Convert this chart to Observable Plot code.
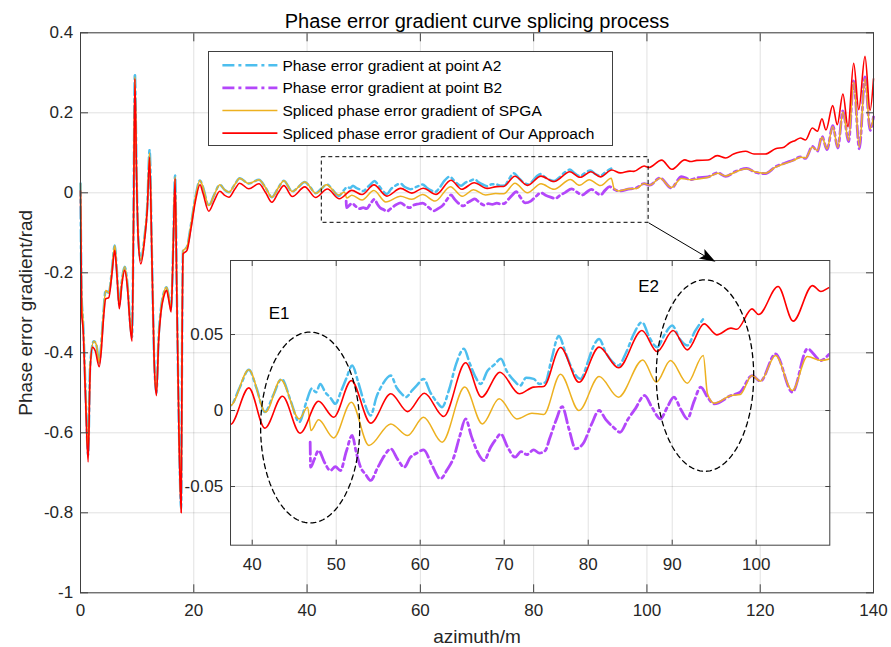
<!DOCTYPE html>
<html><head><meta charset="utf-8">
<script src="https://cdn.jsdelivr.net/npm/d3@7"></script>
<script src="https://cdn.jsdelivr.net/npm/@observablehq/plot@0.6"></script>
<style>
body{margin:0;background:#fff;}
#wrap{position:relative;width:891px;height:647px;font-family:"Liberation Sans",Arial,sans-serif;}
#wrap > svg, #wrap > div{position:absolute;}
</style></head><body><div id="wrap"></div>
<script>
// ---------------- data ----------------
const titleText = "Phase error gradient curve splicing process";
const xLabelText = "azimuth/m";
const yLabelText = "Phase error gradient/rad";
const legendLabels = ["Phase error gradient at point A2","Phase error gradient at point B2","Spliced phase error gradient of SPGA","Spliced phase error gradient of Our Approach"];

const xTicksMain = [0,20,40,60,80,100,120,140];
const xTickLabelsMain = ["0","20","40","60","80","100","120","140"];
const yTicksMain = [-1,-0.8,-0.6,-0.4,-0.2,0,0.2,0.4];
const yTickLabelsMain = ["-1","-0.8","-0.6","-0.4","-0.2","0","0.2","0.4"];
const xTicksInset = [40,50,60,70,80,90,100];
const xTickLabelsInset = ["40","50","60","70","80","90","100"];
const yTicksInset = [-0.05,0,0.05];
const yTickLabelsInset = ["-0.05","0","0.05"];

// azimuth (m), gradient (rad)
const gradA2 = [[0,0.023],[0.2,-0.26],[0.45,-0.32],[0.9,-0.5],[1.35,-0.655],[1.7,-0.43],[2.35,-0.371],[2.8,-0.38],[3.3,-0.425],[3.7,-0.37],[4.0,-0.31],[4.45,-0.244],[5.0,-0.25],[5.5,-0.2],[6.05,-0.132],[6.4,-0.19],[6.85,-0.28],[7.3,-0.22],[7.8,-0.185],[8.3,-0.23],[8.8,-0.33],[9.1,-0.36],[9.35,-0.08],[9.6,0.2975],[9.9,0.05],[10.2,-0.11],[10.65,-0.168],[11.3,-0.11],[11.8,-0.03],[12.2,0.107],[12.6,-0.15],[13.0,-0.41],[13.4,-0.5],[13.8,-0.36],[14.2,-0.29],[14.7,-0.25],[15.2,-0.236],[15.6,-0.26],[16.0,-0.29],[16.35,-0.14],[16.7,0.043],[17.0,-0.24],[17.4,-0.6],[17.77,-0.79],[17.95,-0.33],[18.1,-0.145],[18.8,-0.135],[19.5,-0.08],[20.3,-0.01],[21.1,0.031],[21.6,0.015],[22.65,-0.032],[23.6,-0.005],[24.6,0.02],[25.4,0.008],[26.2,0.0015],[27.2,0.02],[28.1,0.0365],[29.7,0.023],[31.5,0.0325],[32.7,0.012],[33.8,-0.011],[34.9,0.012],[35.9,0.03],[37.4,0.0033],[38.5,0.015],[39.6,0.0268],[40.5,0.015],[41.5,-0.001],[42.5,0.01],[43.5,0.0208],[44.6,0.006],[45.6,-0.0077],[46.5,0.0066],[47.1,0.0145],[47.6,0.012],[48.1,0.0175],[48.7,0.012],[49.3,0.0085],[49.9,0.0044],[50.6,0.013],[51.2,0.021],[51.9,0.0296],[52.6,0.019],[53.3,0.006],[54.1,-0.0033],[54.8,0.009],[55.5,0.017],[56.5,0.023],[57.2,0.015],[57.8,0.011],[58.3,0.0088],[59.0,0.013],[59.6,0.0165],[60.4,0.0208],[61.2,0.012],[62.0,0.0055],[62.6,0.0022],[63.4,0.013],[64.3,0.031],[65.2,0.0406],[65.9,0.031],[66.5,0.023],[67.2,0.0175],[68.0,0.026],[68.8,0.03],[69.6,0.034],[70.3,0.026],[71.2,0.0195],[71.9,0.0164],[72.6,0.0215],[73.5,0.0208],[74.2,0.0175],[74.9,0.0186],[75.6,0.033],[76.5,0.049],[77.3,0.038],[78.2,0.026],[79.1,0.0208],[79.9,0.031],[80.6,0.042],[81.3,0.0471],[82.1,0.038],[82.9,0.032],[83.6,0.0296],[84.5,0.038],[85.4,0.05],[86.4,0.0581],[87.3,0.048],[88.2,0.0417],[89.1,0.05],[90.0,0.0559],[90.9,0.047],[91.8,0.0428],[92.7,0.052],[93.7,0.0603]];

const gradB2 = [[46.9,-0.0208],[46.95,-0.0373],[47.4,-0.032],[47.9,-0.0263],[48.6,-0.034],[49.3,-0.0395],[49.9,-0.037],[50.5,-0.0395],[51.2,-0.027],[51.9,-0.0164],[52.4,-0.028],[52.9,-0.0373],[53.5,-0.042],[54.1,-0.046],[54.9,-0.038],[55.7,-0.03],[56.5,-0.0252],[57.3,-0.032],[58.1,-0.0373],[58.8,-0.031],[59.6,-0.028],[60.4,-0.0259],[61.4,-0.036],[62.4,-0.045],[63.2,-0.039],[64.0,-0.0307],[64.7,-0.017],[65.4,-0.0055],[66.1,-0.017],[66.8,-0.027],[67.6,-0.0329],[68.4,-0.024],[69.0,-0.019],[69.6,-0.0154],[70.4,-0.024],[71.3,-0.0307],[72.0,-0.027],[72.7,-0.029],[73.5,-0.0259],[74.2,-0.028],[74.9,-0.0263],[75.4,-0.0186],[76.2,-0.006],[76.9,0.0026],[77.7,-0.012],[78.5,-0.0252],[79.5,-0.0208],[80.4,-0.009],[81.3,0.0],[82.1,-0.006],[83.0,-0.011],[83.8,-0.0143],[84.7,-0.006],[85.6,0.0011],[86.7,0.0099],[87.6,0.002],[88.6,-0.0055],[89.4,0.002],[90.2,0.0088],[91.0,0.001],[91.8,-0.0055],[92.6,0.006],[93.4,0.0154],[94.2,0.0088],[95.0,0.0044],[97.0,0.0099],[98.1,0.0121],[99.5,0.023],[100.5,0.0193],[102.3,0.0373],[104.3,0.0121],[106.1,0.0406],[107.7,0.0329],[108.8,0.0373],[110.8,0.040],[112.5,0.050],[113.9,0.041],[115.6,0.053],[117.6,0.061],[119.2,0.051],[120.9,0.048],[122.7,0.065],[124.5,0.075],[125.9,0.082],[127.1,0.090],[128.0,0.086],[129.2,0.116],[130.1,0.104],[130.9,0.141],[131.8,0.108],[132.8,0.168],[133.7,0.112],[134.6,0.205],[135.6,0.128],[136.5,0.280],[137.5,0.110],[138.5,0.290],[139.4,0.156],[140,0.19]];

const gradSPGA = [[0,0.023],[0.2,-0.26],[0.45,-0.32],[0.9,-0.5],[1.35,-0.655],[1.7,-0.43],[2.35,-0.371],[2.8,-0.38],[3.3,-0.425],[3.7,-0.37],[4.0,-0.31],[4.45,-0.244],[5.0,-0.25],[5.5,-0.2],[6.05,-0.132],[6.4,-0.19],[6.85,-0.28],[7.3,-0.22],[7.8,-0.185],[8.3,-0.23],[8.8,-0.33],[9.1,-0.36],[9.35,-0.08],[9.6,0.29],[9.9,0.05],[10.2,-0.11],[10.65,-0.168],[11.3,-0.11],[11.8,-0.03],[12.2,0.1],[12.6,-0.15],[13.0,-0.41],[13.4,-0.5],[13.8,-0.36],[14.2,-0.29],[14.7,-0.25],[15.2,-0.236],[15.6,-0.26],[16.0,-0.29],[16.35,-0.14],[16.7,0.04],[17.0,-0.24],[17.4,-0.6],[17.77,-0.79],[17.95,-0.33],[18.1,-0.145],[18.8,-0.135],[19.5,-0.08],[20.3,-0.01],[21.1,0.031],[21.6,0.015],[22.65,-0.032],[23.6,-0.005],[24.6,0.02],[25.4,0.008],[26.2,0.0015],[27.2,0.02],[28.1,0.0365],[29.7,0.023],[31.5,0.0325],[32.7,0.012],[33.8,-0.011],[34.9,0.012],[35.9,0.03],[37.4,0.0033],[39.6,0.0268],[41.6,-0.001],[43.4,0.0202],[45.6,-0.0055],[46.6,0.0022],[47.0,-0.0132],[47.9,-0.0061],[49.7,-0.018],[51.8,0.0055],[53.9,-0.023],[56.5,-0.0088],[58.5,-0.0164],[60.4,-0.0044],[62.6,-0.0208],[65.3,0.0154],[67.4,-0.0088],[69.4,0.0077],[71.5,-0.0055],[73.3,-0.0018],[74.7,-0.0026],[76.7,0.0239],[78.9,0.0],[81.3,0.0224],[83.6,0.0088],[86.5,0.0333],[88.1,0.0186],[89.8,0.0329],[91.8,0.018],[93.7,0.0362],[94.2,0.011],[95.0,0.0048],[97.0,0.0099],[98.1,0.0105],[99.5,0.023],[100.5,0.0193],[102.3,0.0362],[104.3,0.0132],[106.1,0.0355],[107.7,0.0329],[108.8,0.034],[110.8,0.039],[112.5,0.049],[113.9,0.042],[115.6,0.052],[117.6,0.060],[119.2,0.052],[120.9,0.049],[122.7,0.064],[124.5,0.074],[125.9,0.081],[127.1,0.089],[128.0,0.087],[129.2,0.114],[130.1,0.106],[130.9,0.139],[131.8,0.110],[132.8,0.166],[133.7,0.114],[134.6,0.202],[135.6,0.131],[136.5,0.277],[137.5,0.114],[138.5,0.285],[139.4,0.160],[140,0.19]];

const gradOurs = [[0,0.005],[0.2,-0.3],[0.45,-0.34],[0.9,-0.52],[1.35,-0.673],[1.7,-0.45],[2.1,-0.386],[2.6,-0.395],[3.3,-0.435],[3.7,-0.39],[4.0,-0.327],[4.45,-0.265],[5.0,-0.262],[5.5,-0.21],[6.05,-0.144],[6.4,-0.2],[6.85,-0.29],[7.3,-0.23],[7.8,-0.194],[8.3,-0.24],[8.8,-0.34],[9.1,-0.371],[9.35,-0.1],[9.6,0.285],[9.9,0.04],[10.2,-0.12],[10.65,-0.178],[11.3,-0.12],[11.8,-0.04],[12.2,0.089],[12.6,-0.16],[13.0,-0.42],[13.4,-0.507],[13.8,-0.37],[14.2,-0.3],[14.7,-0.26],[15.2,-0.244],[15.6,-0.27],[16.0,-0.298],[16.35,-0.15],[16.7,0.035],[17.0,-0.25],[17.4,-0.62],[17.77,-0.8],[17.95,-0.35],[18.1,-0.153],[18.8,-0.144],[19.5,-0.09],[20.3,-0.02],[21.1,0.02],[21.6,0.0],[22.65,-0.046],[23.6,-0.02],[24.6,0.004],[25.4,-0.006],[26.2,-0.011],[27.2,0.008],[28.1,0.024],[29.7,0.01],[31.5,0.0225],[32.7,0.0],[33.8,-0.0235],[34.9,0.0],[35.9,0.018],[37.4,-0.0092],[39.6,0.0149],[41.5,-0.0116],[43.6,0.0094],[45.7,-0.0149],[47.9,0.0061],[49.7,-0.0044],[51.8,0.0197],[54.1,-0.0083],[56.5,0.011],[58.5,-0.0007],[60.5,0.0114],[62.8,-0.0039],[65.4,0.0314],[67.3,0.0088],[69.5,0.0252],[71.8,0.011],[73.5,0.0154],[74.7,0.0158],[76.7,0.0415],[78.9,0.0186],[81.3,0.0417],[83.6,0.0281],[86.4,0.0526],[88.2,0.0388],[90.1,0.0526],[91.8,0.0399],[93.8,0.057],[95.3,0.0498],[97.0,0.0542],[97.7,0.0535],[99.5,0.0669],[100.3,0.0632],[102.6,0.0816],[104.4,0.0588],[106.7,0.0822],[107.7,0.0783],[108.8,0.0811],[110.8,0.082],[112.4,0.093],[113.9,0.087],[115.3,0.097],[117.4,0.104],[118.9,0.097],[120.9,0.097],[122.7,0.11],[124.2,0.114],[125.1,0.124],[126.2,0.131],[127.1,0.137],[128.0,0.132],[129.2,0.162],[130.1,0.154],[130.9,0.185],[131.6,0.157],[132.8,0.218],[133.6,0.17],[134.6,0.247],[135.5,0.165],[136.5,0.324],[137.4,0.208],[138.5,0.341],[139.4,0.206],[140,0.285]];

// annotations (in data coordinates)
const zoomBox = [{x1:42.6, x2:100.3, y1:-0.075, y2:0.089}];
const arrowShaft = [{x1:100.3, y1:-0.075, x2:111.4, y2:-0.168}];
const arrowTip = [{x:112.1, y:-0.1725}];
const ellipseSpecs = [{cx:46.9, cy:-0.0112, rx:5.9, ry:0.0628},{cx:93.9, cy:0.023, rx:5.8, ry:0.063}];
const ellipseLabels = [{x:43.2, y:0.0638, text:"E1"},{x:87.2, y:0.0816, text:"E2"}];

// ---------------- drawing ----------------
const FONT = "Liberation Sans, Arial, sans-serif";
const toObj = arr => arr.map(([x,y]) => ({x,y}));
const series = [
  {data: toObj(gradA2),   stroke:"#4DBEEE", width:2.5, dash:"12,4,3,4"},
  {data: toObj(gradB2),   stroke:"#B347FA", width:2.8, dash:"12,4,3,4"},
  {data: toObj(gradSPGA), stroke:"#EDB120", width:1.5, dash:null},
  {data: toObj(gradOurs), stroke:"#FF0000", width:1.6, dash:null}
];
const fmt = (ticks, labels) => { const m = new Map(ticks.map((t,i)=>[t,labels[i]])); return d => m.get(d) ?? ""; };
const gridStyle = {stroke:"#000", strokeOpacity:0.12, strokeWidth:1};
const axisColor = "#404040";

const W = 891, H = 647;
const mainMargins = {marginLeft:80, marginRight:18, marginTop:32.3, marginBottom:54.7};
const mainScales = {x:{domain:[0,140]}, y:{domain:[-1,0.4]}};

const lineMarks = (clip) => series.map(s => Plot.line(s.data, {x:"x", y:"y", stroke:s.stroke, strokeWidth:s.width, strokeDasharray:s.dash, curve:"monotone-x", clip}));

const mainPlot = Plot.plot({
  width:W, height:H, ...mainMargins, ...mainScales,
  style:{fontFamily:FONT, background:"transparent", overflow:"visible"},
  marks:[
    Plot.gridX(xTicksMain, gridStyle),
    Plot.gridY(yTicksMain, gridStyle),
    ...lineMarks(false),
    Plot.rect(zoomBox, {x1:"x1", x2:"x2", y1:"y1", y2:"y2", fill:"none", stroke:"#000", strokeWidth:1, strokeDasharray:"4,3"}),
    Plot.frame({stroke:axisColor, strokeWidth:1}),
    Plot.axisX(xTicksMain, {anchor:"bottom", tickSize:-8, tickPadding:18.7, fontSize:17, tickFormat:fmt(xTicksMain,xTickLabelsMain), label:null, stroke:axisColor, color:"#262626"}),
    Plot.axisX(xTicksMain, {anchor:"top", tickSize:-8, tickFormat:()=>"", label:null, stroke:axisColor}),
    Plot.axisY(yTicksMain, {anchor:"left", tickSize:-8, tickPadding:15.3, fontSize:17, tickFormat:fmt(yTicksMain,yTickLabelsMain), label:null, stroke:axisColor, color:"#262626"}),
    Plot.axisY(yTicksMain, {anchor:"right", tickSize:-8, tickFormat:()=>"", label:null, stroke:axisColor}),
    Plot.text([titleText], {frameAnchor:"top", lineAnchor:"middle", textAnchor:"middle", dy:-11.7, fontSize:20, fill:"#000"}),
    Plot.text([xLabelText], {frameAnchor:"bottom", lineAnchor:"middle", textAnchor:"middle", dy:44.6, fontSize:19, fill:"#262626"}),
    Plot.text([yLabelText], {frameAnchor:"left", lineAnchor:"middle", textAnchor:"middle", dx:-54.1, rotate:-90, fontSize:19, fill:"#262626"})
  ]
});
mainPlot.style.left = "0px"; mainPlot.style.top = "0px";

// inset
const insetFrame = {left:230, top:260, width:599.3, height:284.7};
const iM = {marginLeft:60, marginRight:10, marginTop:10, marginBottom:35};
const ellipsePts = ellipseSpecs.flatMap((e,k) => d3.range(0, 361, 3).map(a => ({k, x:e.cx + e.rx*Math.cos(a*Math.PI/180), y:e.cy + e.ry*Math.sin(a*Math.PI/180)})));
const insetPlot = Plot.plot({
  width: insetFrame.width + iM.marginLeft + iM.marginRight,
  height: insetFrame.height + iM.marginTop + iM.marginBottom,
  ...iM,
  x:{domain:[37.417,108.76]}, y:{domain:[-0.0886,0.0987]},
  style:{fontFamily:FONT, background:"transparent", overflow:"visible"},
  marks:[
    Plot.frame({fill:"white", stroke:"none"}),
    Plot.gridX(xTicksInset, gridStyle),
    Plot.gridY(yTicksInset, gridStyle),
    ...lineMarks(true),
    Plot.line(ellipsePts, {x:"x", y:"y", z:"k", stroke:"#000", strokeWidth:1.3, strokeDasharray:"5,4"}),
    Plot.text(ellipseLabels, {x:"x", y:"y", text:"text", fontSize:17, fill:"#000"}),
    Plot.frame({stroke:axisColor, strokeWidth:1}),
    Plot.axisX(xTicksInset, {anchor:"bottom", tickSize:-5, tickPadding:18, fontSize:17, tickFormat:fmt(xTicksInset,xTickLabelsInset), label:null, stroke:axisColor, color:"#262626"}),
    Plot.axisX(xTicksInset, {anchor:"top", tickSize:-5, tickFormat:()=>"", label:null, stroke:axisColor}),
    Plot.axisY(yTicksInset, {anchor:"left", tickSize:-5, tickPadding:12.3, fontSize:17, tickFormat:fmt(yTicksInset,yTickLabelsInset), label:null, stroke:axisColor, color:"#262626"}),
    Plot.axisY(yTicksInset, {anchor:"right", tickSize:-5, tickFormat:()=>"", label:null, stroke:axisColor})
  ]
});
insetPlot.style.left = (insetFrame.left - iM.marginLeft) + "px";
insetPlot.style.top = (insetFrame.top - iM.marginTop) + "px";

// arrow overlay (same scales as main)
const headShape = {draw(context) { context.moveTo(0,0); context.lineTo(-5.5,16); context.lineTo(0,12.5); context.lineTo(5.5,16); context.closePath(); }};
const arrowPlot = Plot.plot({
  width:W, height:H, ...mainMargins,
  x:{...mainScales.x, axis:null}, y:{...mainScales.y, axis:null},
  style:{background:"transparent", overflow:"visible", pointerEvents:"none"},
  marks:[
    Plot.link(arrowShaft, {x1:"x1", y1:"y1", x2:"x2", y2:"y2", stroke:"#000", strokeWidth:1}),
    Plot.vector(arrowTip, {x:"x", y:"y", length:1, rotate:120, anchor:"start", shape:headShape, fill:"#000", stroke:"none"})
  ]
});
arrowPlot.style.left = "0px"; arrowPlot.style.top = "0px";

// legend
const legend = document.createElement("div");
Object.assign(legend.style, {left:"208.3px", top:"50.7px", width:"405px", height:"95.3px", border:"1px solid #404040", background:"#fff", boxSizing:"border-box"});
const lsvg = d3.create("svg").attr("width",405).attr("height",95.3).style("position","absolute").style("left","-1px").style("top","-1px");
series.forEach((s,i) => {
  const yy = 14.3 + i*22.6;
  lsvg.append("line").attr("x1",14.4).attr("x2",69.4).attr("y1",yy).attr("y2",yy)
    .attr("stroke",s.stroke).attr("stroke-width",s.width).attr("stroke-dasharray",s.dash);
  lsvg.append("text").attr("x",74.4).attr("y",yy).attr("dy","0.35em").attr("font-size",15.5)
    .attr("font-family",FONT).attr("fill","#000").text(legendLabels[i]);
});
legend.appendChild(lsvg.node());

const wrap = document.getElementById("wrap");
wrap.appendChild(mainPlot);
wrap.appendChild(insetPlot);
wrap.appendChild(legend);
wrap.appendChild(arrowPlot);
</script></body></html>
